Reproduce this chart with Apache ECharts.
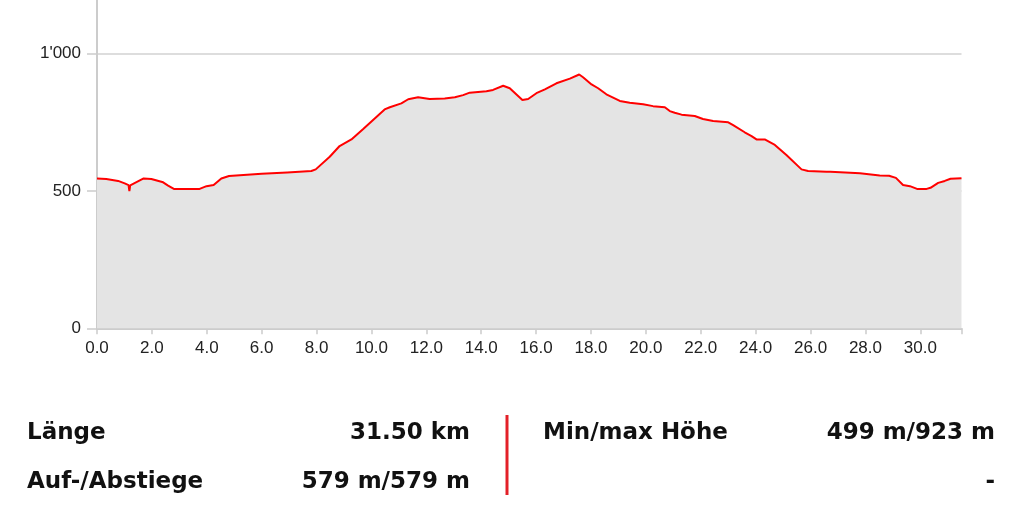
<!DOCTYPE html>
<html>
<head>
<meta charset="utf-8">
<style>
  html, body { margin: 0; padding: 0; background: #ffffff; }
  #chart { width: 1024px; height: 520px; }
</style>
<script src="https://cdn.jsdelivr.net/npm/echarts@6/dist/echarts.min.js"></script>
</head>
<body>
<div id="chart"></div>
<script>
// Distance along the route (km)
const distanceKm = [
  0.00, 0.34, 0.77, 1.01, 1.15, 1.18, 1.21, 1.27, 1.70, 1.98,
  2.41, 2.59, 2.80, 3.74, 3.99, 4.25, 4.53, 4.81, 6.00, 6.93,
  6.96, 6.99, 7.81, 7.97, 8.48, 8.84, 9.27, 9.69, 10.48, 10.67,
  11.09, 11.34, 11.70, 12.12, 12.67, 13.04, 13.34, 13.58, 14.19, 14.43,
  14.80, 15.04, 15.50, 15.71, 16.01, 16.32, 16.74, 17.23, 17.57, 17.71,
  18.02, 18.26, 18.56, 19.05, 19.41, 19.90, 20.26, 20.69, 20.87, 21.05,
  21.30, 21.78, 22.08, 22.45, 23.00, 23.18, 23.60, 23.85, 24.03, 24.33,
  24.70, 25.12, 25.67, 25.91, 26.58, 26.65, 26.72, 27.80, 28.52, 28.86,
  29.11, 29.37, 29.62, 29.88, 30.23, 30.37, 30.65, 30.89, 31.10, 31.50
];
// Elevation (m)
const elevationM = [
  545, 543, 536, 527, 521, 499, 520, 523, 545, 543,
  531, 519, 507, 507, 517, 521, 545, 554, 562, 567,
  563, 567, 572, 578, 624, 663, 687, 724, 796, 804,
  818, 833, 840, 834, 836, 840, 848, 857, 862, 867,
  882, 873, 830, 834, 855, 869, 891, 908, 923, 913,
  887, 873, 851, 827, 820, 815, 808, 804, 790, 784,
  777, 772, 761, 754, 749, 739, 713, 699, 687, 687,
  667, 630, 578, 572, 569, 565, 569, 564, 556, 555,
  547, 521, 517, 507, 507, 511, 529, 536, 544, 546
];
const xTickLabels = ['0.0','2.0','4.0','6.0','8.0','10.0','12.0','14.0','16.0','18.0','20.0','22.0','24.0','26.0','28.0','30.0'];
const yTickValues = [0, 500, 1000];
const yTickLabels = { 0: '0', 500: '500', 1000: "1'000" };
const statLabels = ['Länge', 'Auf-/Abstiege', 'Min/max Höhe', ''];
const statValues = ['31.50 km', '579 m/579 m', '499 m/923 m', '-'];

const profile = distanceKm.map((d, i) => [d, elevationM[i]]);

const chart = echarts.init(document.getElementById('chart'), null, { renderer: 'canvas' });

const statFont = 'bold 23px "DejaVu Sans", Verdana, sans-serif';
const row1 = 422, row2 = 471;
const graphics = [
  { type: 'text', left: 27, top: row1, style: { text: statLabels[0], font: statFont, fill: '#111' } },
  { type: 'text', right: 1024 - 470, top: row1, style: { text: statValues[0], font: statFont, fill: '#111', align: 'right' } },
  { type: 'text', left: 27, top: row2, style: { text: statLabels[1], font: statFont, fill: '#111' } },
  { type: 'text', right: 1024 - 470, top: row2, style: { text: statValues[1], font: statFont, fill: '#111', align: 'right' } },
  { type: 'text', left: 543, top: row1, style: { text: statLabels[2], font: statFont, fill: '#111' } },
  { type: 'text', right: 1024 - 995, top: row1, style: { text: statValues[2], font: statFont, fill: '#111', align: 'right' } },
  { type: 'text', right: 1024 - 995, top: row2, style: { text: statValues[3], font: statFont, fill: '#111', align: 'right' } },
  { type: 'line', shape: { x1: 507, y1: 415, x2: 507, y2: 495 }, style: { stroke: '#e32028', lineWidth: 3 } }
];

chart.setOption({
  animation: false,
  backgroundColor: '#ffffff',
  grid: { left: 97, right: 62.5, top: 0, height: 328.3, containLabel: false },
  xAxis: {
    type: 'value',
    min: 0,
    max: 31.5,
    interval: 2,
    axisLine: { show: true, lineStyle: { color: '#cccccc', width: 2 } },
    axisTick: { show: true, length: 6, lineStyle: { color: '#cccccc', width: 1.5 } },
    axisLabel: {
      margin: 12,
      color: '#222222',
      fontSize: 17,
      fontFamily: '"Liberation Sans", Arial, sans-serif',
      formatter: function (v) {
        const idx = Math.round(v / 2);
        return (Math.abs(v - idx * 2) < 1e-6 && xTickLabels[idx] !== undefined) ? xTickLabels[idx] : '';
      }
    },
    splitLine: { show: false }
  },
  yAxis: {
    type: 'value',
    min: 0,
    max: 1194,
    interval: 500,
    axisLine: { show: true, lineStyle: { color: '#cccccc', width: 2 } },
    axisTick: { show: true, length: 10, customValues: yTickValues, lineStyle: { color: '#cccccc', width: 1.5 } },
    axisLabel: {
      margin: 16,
      color: '#222222',
      fontSize: 17,
      fontFamily: '"Liberation Sans", Arial, sans-serif',
      formatter: function (v) { return yTickLabels[v] !== undefined ? yTickLabels[v] : ''; }
    },
    splitLine: { show: true, lineStyle: { color: '#dddddd', width: 2 } }
  },
  series: [{
    type: 'line',
    data: profile,
    symbol: 'none',
    smooth: false,
    lineStyle: { color: '#ff0000', width: 2 },
    areaStyle: { color: '#e4e4e4', opacity: 1 },
    z: 3
  }],
  graphic: graphics
});
</script>
</body>
</html>
